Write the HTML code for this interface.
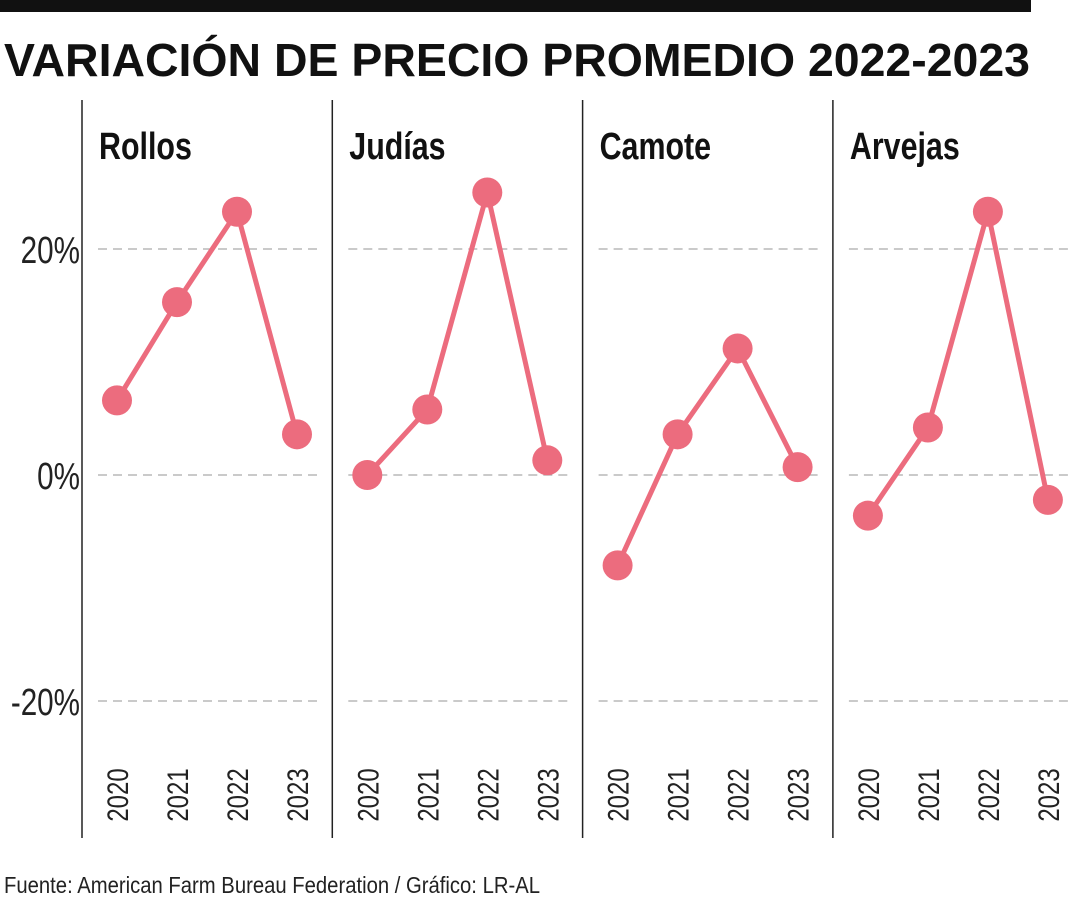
<!DOCTYPE html>
<html><head><meta charset="utf-8">
<style>
body{margin:0;background:#fff;width:1080px;height:900px;overflow:hidden;font-family:"Liberation Sans",sans-serif;}
svg{display:block}
</style></head><body>
<svg id="chart" width="1080" height="900">
<rect x="0" y="0" width="1031" height="12" fill="#111"/>
<text x="4" y="76" font-size="46" font-weight="bold" fill="#111" textLength="1026" lengthAdjust="spacingAndGlyphs">VARIACIÓN DE PRECIO PROMEDIO 2022-2023</text>
<text x="4" y="893" font-size="23" fill="#222" textLength="536" lengthAdjust="spacingAndGlyphs">Fuente: American Farm Bureau Federation / Gráfico: LR-AL</text>
<g id="plot"></g>
</svg>
<script>
const panels = ["Rollos","Judías","Camote","Arvejas"];
const years = ["2020","2021","2022","2023"];
const rollos = [6.6,15.3,23.3,3.6];
const judias = [0,5.8,25,1.3];
const camote = [-8,3.6,11.2,0.7];
const arvejas = [-3.6,4.2,23.3,-2.2];
const series = [rollos,judias,camote,arvejas];
const ticks = [20,0,-20];
const tickLabels = ["20%","0%","-20%"];

const NS="http://www.w3.org/2000/svg";
const g=document.getElementById('plot');
const y=v=>475-v*11.3;
const px=i=>82+i*250.3;
const x=(p,j)=>px(p)+35+j*60;
function mk(t,a){const e=document.createElementNS(NS,t);for(const k in a)e.setAttribute(k,a[k]);g.appendChild(e);return e;}

ticks.forEach((t,k)=>{
  const e=mk('text',{x:80,y:y(t)+14,'font-size':38,'text-anchor':'end',fill:'#222',transform:`translate(80 0) scale(0.78 1) translate(-80 0)`});
  e.textContent=tickLabels[k];
  
  
});
panels.forEach((name,p)=>{
  const l=mk('line',{x1:px(p),x2:px(p),y1:100,y2:838,stroke:'#222','stroke-width':1.5});
  
  
  ticks.forEach(t=>{
    const gl=mk('line',{x1:px(p)+16,x2:px(p)+236,y1:y(t),y2:y(t),stroke:'#aaa','stroke-width':1.2,'stroke-dasharray':'9 6'});
    
    
  });
  const tt=mk('text',{x:px(p)+17,y:159,'font-size':38,'font-weight':'bold',fill:'#111',transform:`translate(${px(p)+17} 0) scale(0.8 1) translate(${-(px(p)+17)} 0)`});
  tt.textContent=name;
  
  
  const d=series[p];
  const pts=d.map((v,j)=>x(p,j)+','+y(v)).join(' ');
  const pl=mk('polyline',{points:pts,fill:'none',stroke:'#ec6c7e','stroke-width':5,'stroke-linejoin':'round'});
  
  
  d.forEach((v,j)=>{
    const c=mk('circle',{cx:x(p,j),cy:y(v),r:15,fill:'#ec6c7e'});
    
    
  });
  years.forEach((yr,j)=>{
    const cx=x(p,j)+11, cy=795;
    const e=mk('text',{x:0,y:0,'font-size':30,'text-anchor':'middle',fill:'#222',transform:`translate(${cx} ${cy}) rotate(-90) scale(0.8 1)`});
    e.textContent=yr;
    
    
  });
});
</script>
</body></html>
